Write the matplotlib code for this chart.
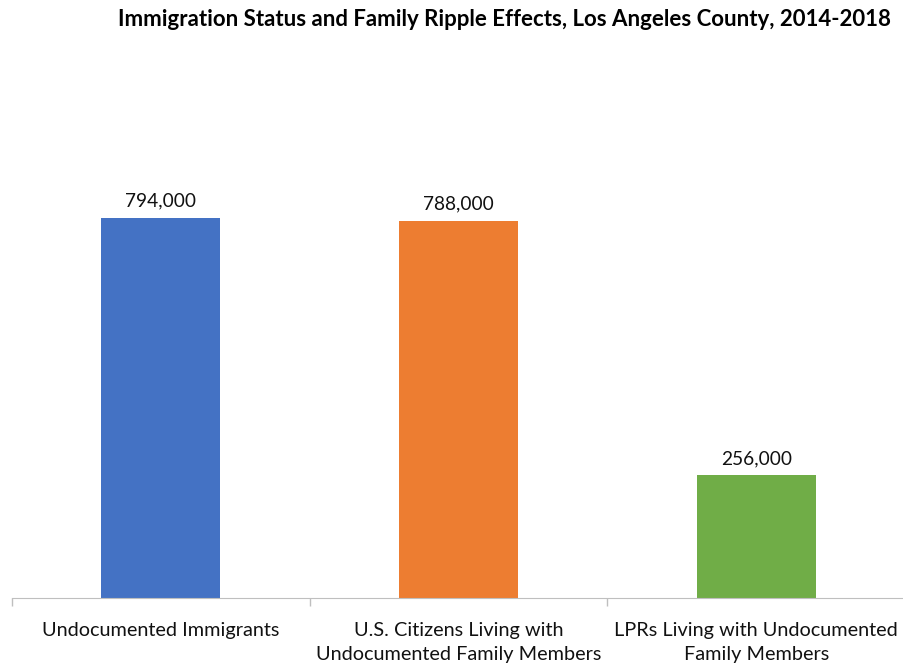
import matplotlib
matplotlib.use("Agg")
import matplotlib.pyplot as plt

categories = ["Undocumented Immigrants",
              "U.S. Citizens Living with\nUndocumented Family Members",
              "LPRs Living with Undocumented\nFamily Members"]
values = [794000, 788000, 256000]
colors = ["#4472C4", "#ED7D31", "#70AD47"]
title = "Immigration Status and Family Ripple Effects, Los Angeles County, 2014-2018"

plt.rcParams['font.family'] = ['Lato', 'DejaVu Sans']

fig = plt.figure(figsize=(9.04, 6.63), dpi=100)
ax = fig.add_axes([12/904, 65/663, 893/904, 478.6/663])

x = range(len(categories))
bars = ax.bar(x, values, width=0.4, color=colors)
for b, v in zip(bars, values):
    ax.text(b.get_x() + b.get_width()/2, v + 17000, f"{v:,}",
            ha="center", va="bottom", fontsize=13.8, color="#111111")

ax.set_xlim(-0.5, 2.5)
ax.set_ylim(0, 1000000)
ax.set_yticks([])
ax.set_xticks([-0.5, 0.5, 1.5, 2.5], minor=False)
ax.set_xticklabels([])
ax.tick_params(axis="x", length=6, color="#bfbfbf", width=1)
ax.set_xticks(list(x), minor=True)
ax.set_xticklabels(categories, minor=True, fontsize=14.3, color="#111111", linespacing=1.5)
ax.tick_params(axis="x", which="minor", length=0, pad=17)

for s in ["top", "right", "left"]:
    ax.spines[s].set_visible(False)
ax.spines["bottom"].set_color("#bfbfbf")

fig.text(505/904, 1 - 19/663, title, ha="center", va="center",
         fontsize=16, fontweight="bold", family=['Liberation Sans Narrow', 'Lato', 'DejaVu Sans'])

fig.savefig("out.png", dpi=100)
